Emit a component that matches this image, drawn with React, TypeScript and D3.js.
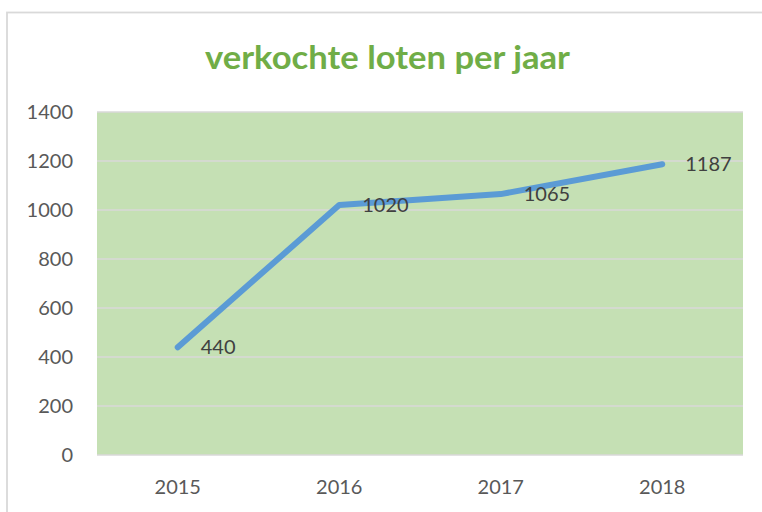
import React, { useEffect, useRef } from "react";
import * as d3 from "d3";

const years = ["2015", "2016", "2017", "2018"];
const sold = [440, 1020, 1065, 1187];
const yTicks = [0, 200, 400, 600, 800, 1000, 1200, 1400];
const title = "verkochte loten per jaar";

const W = 762;
const H = 512;
const plot = { left: 97, right: 743, top: 112, bottom: 455 };

export default function App() {
  const ref = useRef<SVGSVGElement | null>(null);

  useEffect(() => {
    const svg = d3.select(ref.current);
    svg.selectAll("*").remove();

    const x = d3.scaleBand<string>().domain(years).range([plot.left, plot.right]);
    const y = d3.scaleLinear().domain([0, 1400]).range([plot.bottom, plot.top]);
    const cx = (d: string) => (x(d) as number) + x.bandwidth() / 2;

    svg.append("rect").attr("width", W).attr("height", H).attr("fill", "#ffffff");

    // outer chart border
    svg
      .append("rect")
      .attr("x", 7)
      .attr("y", 12.5)
      .attr("width", 900)
      .attr("height", 700)
      .attr("fill", "none")
      .attr("stroke", "#d9d9d9")
      .attr("stroke-width", 1.8);

    // title
    svg
      .append("text")
      .attr("x", 387.5)
      .attr("y", 69)
      .attr("text-anchor", "middle")
      .attr("font-family", "Lato, 'Open Sans', sans-serif")
      .attr("font-weight", 700)
      .attr("font-size", 32)
      .attr("fill", "#70AD47")
      .attr("textLength", 365)
      .attr("lengthAdjust", "spacingAndGlyphs")
      .text(title);

    // plot background
    svg
      .append("rect")
      .attr("x", plot.left)
      .attr("y", plot.top)
      .attr("width", plot.right - plot.left)
      .attr("height", plot.bottom - plot.top)
      .attr("fill", "#C5E0B4");

    // gridlines
    svg
      .append("g")
      .selectAll("line")
      .data(yTicks)
      .join("line")
      .attr("x1", plot.left)
      .attr("x2", plot.right)
      .attr("y1", (d) => y(d))
      .attr("y2", (d) => y(d))
      .attr("stroke", "#d9d9d9")
      .attr("stroke-width", 1.6);

    // y labels
    svg
      .append("g")
      .selectAll("text")
      .data(yTicks)
      .join("text")
      .attr("x", 73)
      .attr("y", (d) => y(d))
      .attr("dy", "0.36em")
      .attr("text-anchor", "end")
      .attr("font-family", "Lato, 'Open Sans', sans-serif")
      .attr("font-size", 20)
      .attr("fill", "#595959")
      .text((d) => String(d));

    // x labels
    svg
      .append("g")
      .selectAll("text")
      .data(years)
      .join("text")
      .attr("x", (d) => cx(d))
      .attr("y", 494)
      .attr("text-anchor", "middle")
      .attr("font-family", "Lato, 'Open Sans', sans-serif")
      .attr("font-size", 20)
      .attr("fill", "#595959")
      .text((d) => d);

    // line
    const line = d3
      .line<number>()
      .x((_, i) => cx(years[i]))
      .y((d) => y(d));

    svg
      .append("path")
      .datum(sold)
      .attr("d", line)
      .attr("fill", "none")
      .attr("stroke", "#5B9BD5")
      .attr("stroke-width", 6)
      .attr("stroke-linecap", "round")
      .attr("stroke-linejoin", "round");

    // data labels
    svg
      .append("g")
      .selectAll("text")
      .data(sold)
      .join("text")
      .attr("x", (_, i) => cx(years[i]) + 23)
      .attr("y", (d) => y(d))
      .attr("dy", "0.36em")
      .attr("text-anchor", "start")
      .attr("font-family", "Lato, 'Open Sans', sans-serif")
      .attr("font-size", 20)
      .attr("fill", "#404040")
      .text((d) => String(d));
  }, []);

  return (
    <svg
      ref={ref}
      width={W}
      height={H}
      style={{ position: "absolute", left: 0, top: 0, display: "block" }}
    />
  );
}
